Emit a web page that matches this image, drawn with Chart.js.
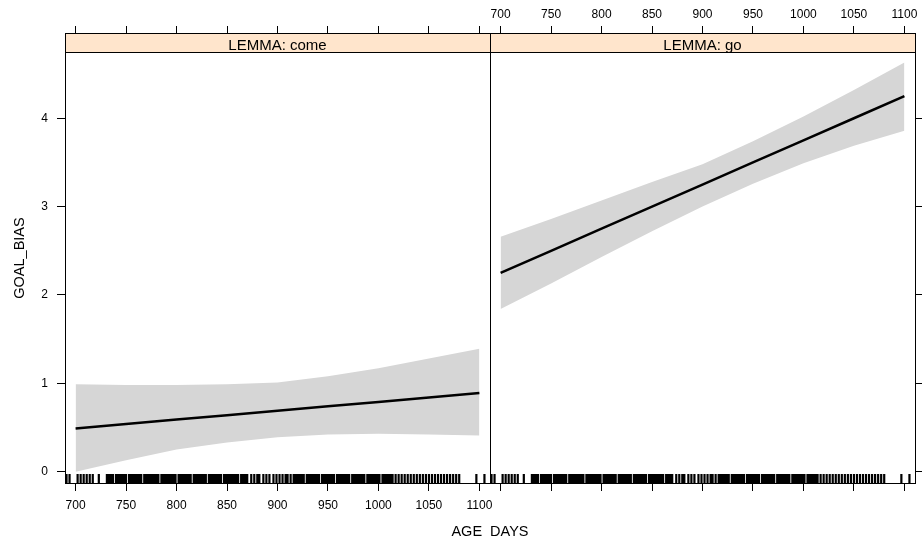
<!DOCTYPE html>
<html>
<head>
<meta charset="utf-8">
<script src="https://cdn.jsdelivr.net/npm/chart.js@4.4.1/dist/chart.umd.min.js"></script>
<style>
  html, body { margin: 0; padding: 0; background: #fff; }
  #wrap { position: relative; width: 922px; height: 537px; overflow: hidden; }
  #wrap canvas { position: absolute; left: 0; top: 0; }
  #xTitle {
    position: absolute; left: 0; top: 523px; width: 980px;
    text-align: center; line-height: 1; color: #000;
    font: 14.5px "Liberation Sans", Arial, sans-serif;
  }
</style>
</head>
<body>
<div id="wrap">
  <canvas id="comePanel" width="922" height="537"></canvas>
  <canvas id="goPanel" width="922" height="537"></canvas>
  <div id="xTitle">AGE_DAYS</div>
</div>
<script>
// effect of AGE_DAYS on GOAL_BIAS, one panel per lemma
const ageDays = [700, 750, 800, 850, 900, 950, 1000, 1050, 1100];

const comeFit   = [0.49, 0.54, 0.59, 0.64, 0.69, 0.74, 0.79, 0.84, 0.89];
const comeUpper = [0.99, 0.98, 0.98, 0.99, 1.01, 1.08, 1.17, 1.28, 1.39];
const comeLower = [0.00, 0.13, 0.25, 0.33, 0.39, 0.42, 0.43, 0.42, 0.41];

const goFit   = [2.25, 2.50, 2.75, 3.00, 3.25, 3.50, 3.75, 4.00, 4.25];
const goUpper = [2.66, 2.86, 3.07, 3.28, 3.48, 3.74, 4.02, 4.32, 4.63];
const goLower = [1.84, 2.13, 2.43, 2.72, 3.00, 3.26, 3.49, 3.69, 3.86];

const xTickValues = [700, 750, 800, 850, 900, 950, 1000, 1050, 1100];
const yTickValues = [0, 1, 2, 3, 4];

// observed ages (rug along the bottom of each panel)
const rugDays = [
  691, 694, 702, 705, 708, 711, 714, 717, 723,
  731, 733, 735, 737, 740, 742, 744, 746, 748, 750, 753, 755, 757, 759, 761, 763, 765,
  768, 770, 772, 774, 776, 778, 780, 782, 785, 787, 789, 791, 793, 795, 797, 799, 802,
  804, 806, 808, 810, 812, 814, 817, 819, 821, 823, 825, 827, 829, 832, 834, 836, 838,
  840, 842, 844, 847, 849, 851, 853, 855, 857, 859, 861, 864, 866, 868, 870,
  874, 877, 880, 882, 886, 889, 892, 896, 899, 902, 905, 908, 910, 913, 916,
  918, 920, 922, 924, 926, 929, 931, 933, 935, 937, 939, 941, 944, 946, 948, 950, 952,
  954, 956, 959, 961, 963, 965, 967, 969, 971, 974, 976, 978, 980, 982, 984, 986, 989,
  991, 993, 995, 997, 999, 1001, 1004, 1006, 1008, 1010, 1012, 1014,
  1017, 1020, 1023, 1026, 1029, 1032, 1035, 1038, 1041, 1044, 1047, 1050, 1053, 1056,
  1059, 1062, 1065, 1068, 1071, 1074, 1077, 1080,
  1097, 1105
];

const X_MIN = 689.5, X_MAX = 1110.5;
const Y_MIN = -0.128, Y_MAX = 4.965;
const FONT = '"Liberation Sans", Arial, sans-serif';
const BAND = "#d6d6d6";
const STRIP = "#ffe5cc";

const panelDecor = {
  id: "panelDecor",
  afterDraw(chart, args, opts) {
    const { ctx, chartArea: a, scales } = chart;
    ctx.save();

    // rug
    ctx.strokeStyle = "#000";
    ctx.lineWidth = 2.2;
    ctx.beginPath();
    rugDays.forEach((d) => {
      const x = scales.x.getPixelForValue(d);
      ctx.moveTo(x, a.bottom);
      ctx.lineTo(x, a.bottom - 9);
    });
    ctx.stroke();

    // strip
    const stripH = 19;
    ctx.fillStyle = STRIP;
    ctx.fillRect(a.left, a.top, a.right - a.left, stripH);
    ctx.lineWidth = 1;
    ctx.beginPath();
    ctx.moveTo(a.left, a.top + stripH + 0.5);
    ctx.lineTo(a.right, a.top + stripH + 0.5);
    ctx.stroke();
    ctx.strokeRect(a.left + 0.5, a.top + 0.5, a.right - a.left, a.bottom - a.top);

    ctx.fillStyle = "#000";
    ctx.font = "15px " + FONT;
    ctx.textAlign = "center";
    ctx.textBaseline = "alphabetic";
    ctx.fillText(opts.label, (a.left + a.right) / 2, a.top + 17);
    ctx.restore();
  },
};

function points(arr) {
  return ageDays.map((d, i) => ({ x: d, y: arr[i] }));
}

function tickGrid(len) {
  return { drawOnChartArea: false, drawTicks: true, tickLength: len, tickColor: "#000", tickWidth: 1 };
}

function buildPanel(canvasId, label, fit, upper, lower, isLeft) {
  return new Chart(document.getElementById(canvasId), {
    type: "line",
    data: {
      datasets: [
        {
          label: "fit",
          data: points(fit),
          borderColor: "#000",
          borderWidth: 2.5,
          pointRadius: 0,
          fill: false,
          order: 0,
        },
        {
          label: "upper",
          data: points(upper),
          borderColor: "rgba(0,0,0,0)",
          borderWidth: 0,
          backgroundColor: BAND,
          pointRadius: 0,
          fill: "+1",
          order: 1,
        },
        {
          label: "lower",
          data: points(lower),
          borderColor: "rgba(0,0,0,0)",
          borderWidth: 0,
          pointRadius: 0,
          fill: false,
          order: 2,
        },
      ],
    },
    options: {
      responsive: false,
      animation: false,
      devicePixelRatio: 1,
      layout: {
        padding: isLeft
          ? { left: 0, right: 922 - 490, top: 0, bottom: 0 }
          : { left: 490, right: 0, top: 0, bottom: 0 },
      },
      plugins: {
        legend: { display: false },
        tooltip: { enabled: false },
        panelDecor: { label: label },
      },
      scales: {
        x: {
          type: "linear",
          position: "bottom",
          min: X_MIN,
          max: X_MAX,
          afterBuildTicks: (s) => { s.ticks = xTickValues.map((v) => ({ value: v })); },
          afterFit: (s) => { s.height = 54; },
          grid: tickGrid(8),
          border: { display: false },
          ticks: {
            display: isLeft,
            color: "#000",
            padding: 7,
            maxRotation: 0,
            autoSkip: false,
            font: { family: FONT, size: 12 },
            callback: (v) => String(v),
          },
        },
        xTop: {
          type: "linear",
          position: "top",
          min: X_MIN,
          max: X_MAX,
          afterBuildTicks: (s) => { s.ticks = xTickValues.map((v) => ({ value: v })); },
          afterFit: (s) => { s.height = 33; },
          grid: tickGrid(7),
          border: { display: false },
          ticks: {
            display: !isLeft,
            color: "#000",
            padding: 4,
            maxRotation: 0,
            autoSkip: false,
            font: { family: FONT, size: 12 },
            callback: (v) => String(v),
          },
        },
        y: {
          type: "linear",
          position: isLeft ? "left" : "right",
          min: Y_MIN,
          max: Y_MAX,
          afterBuildTicks: (s) => { s.ticks = yTickValues.map((v) => ({ value: v })); },
          afterFit: (s) => { s.width = isLeft ? 65 : 7; },
          grid: tickGrid(8),
          border: { display: false },
          ticks: {
            display: isLeft,
            color: "#000",
            padding: 9,
            font: { family: FONT, size: 12 },
            callback: (v) => String(v),
          },
          title: {
            display: isLeft,
            text: "GOAL_BIAS",
            color: "#000",
            font: { family: FONT, size: 14.5 },
            padding: { top: 11, bottom: 0 },
          },
        },
      },
    },
    plugins: [panelDecor],
  });
}

buildPanel("comePanel", "LEMMA: come", comeFit, comeUpper, comeLower, true);
buildPanel("goPanel", "LEMMA: go", goFit, goUpper, goLower, false);
</script>
</body>
</html>
